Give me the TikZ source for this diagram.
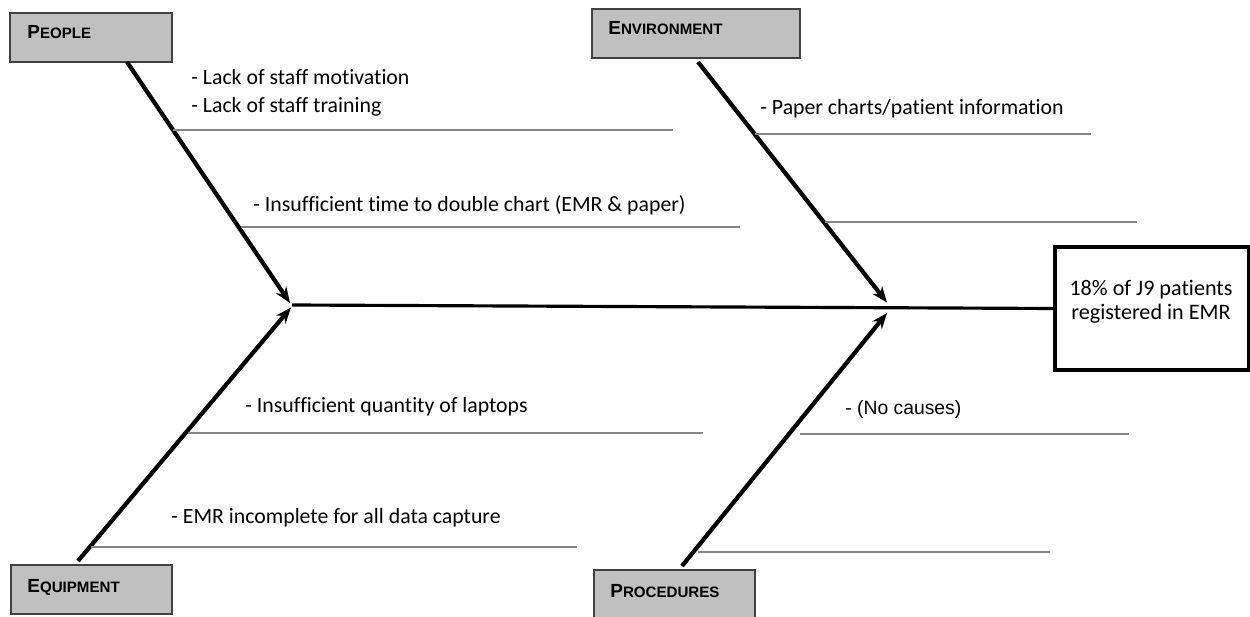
\documentclass[tikz,border=0pt]{standalone}
\usepackage{fontspec}
\setmainfont{Carlito}[Ligatures=NoCommon]
\newfontfamily\arialfont{Liberation Sans}
\usetikzlibrary{arrows.meta}
\definecolor{boxgray}{HTML}{C0C0C0}
\definecolor{boxline}{HTML}{404040}
\definecolor{subgray}{HTML}{858585}
\newcommand\catname[2]{{\arialfont\bfseries\fontsize{10.8}{12}\selectfont #1\fontsize{8.6}{10}\selectfont #2}}
\begin{document}
\begin{tikzpicture}[x=0.02cm,y=-0.02cm,
 catbox/.style={draw=boxline, fill=boxgray, line width=0.7pt, inner sep=0pt, minimum height=0.98cm},
 cattext/.style={anchor=base west, inner sep=0pt},
 bone/.style={line width=2.4pt, -{Stealth[length=9pt,width=7pt]}},
 spineline/.style={line width=1.8pt},
 subline/.style={draw=subgray, line width=0.9pt},
 cause/.style={anchor=base west, inner sep=0pt, font=\fontsize{12.4}{14}\selectfont},
 effectbox/.style={draw, line width=1.8pt, fill=white, inner sep=0pt,
   minimum width=3.88cm, minimum height=2.46cm},
 effecttext/.style={align=center, inner sep=0pt, font=\fontsize{12.6}{13.8}\selectfont}]
\clip (0,0) rectangle (1250,617);
\fill[white] (0,0) rectangle (1250,617);

% category boxes
\node[catbox, minimum width=3.24cm] (people) at (91,37.5) {};
\node[catbox, minimum width=4.16cm] (environment) at (696,33.5) {};
\node[catbox, minimum width=3.22cm] (equipment) at (91.5,589.5) {};
\node[catbox, minimum width=3.22cm] (procedures) at (674.5,594.5) {};
\node[cattext] (peopleT) at (27,39) {\catname{P}{EOPLE}};
\node[cattext] (environmentT) at (608,35) {\catname{E}{NVIRONMENT}};
\node[cattext] (equipmentT) at (27,592) {\catname{E}{QUIPMENT}};
\node[cattext] (proceduresT) at (610,597) {\catname{P}{ROCEDURES}};

% effect
\node[effectbox] (effect) at (1152,308.5) {};
\node[effecttext] (effectT) at (1151,302) {18\% of J9 patients\\registered in EMR};

% bone end points
\coordinate (pStart) at (127,62);
\coordinate (eStart) at (698,62);
\coordinate (qStart) at (78,561);
\coordinate (rStart) at (682,566);
\coordinate (pTip) at (290,303);
\coordinate (qTip) at (291,307.5);
\coordinate (eTip) at (887,302.5);
\coordinate (rTip) at (887,313);
\coordinate (spineL) at (292,305);

% spine
\draw[spineline] (spineL) -- (effect.west);

% bones
\draw[bone] (pStart) -- (pTip);
\draw[bone] (eStart) -- (eTip);
\draw[bone] (qStart) -- (qTip);
\draw[bone] (rStart) -- (rTip);

% cause lines
\draw[subline] (173,130) -- (673,130);
\draw[subline] (241,227) -- (740,227);
\draw[subline] (755,134) -- (1091,134);
\draw[subline] (825,222) -- (1137,222);
\draw[subline] (188,433) -- (703,433);
\draw[subline] (91,547) -- (577,547);
\draw[subline] (800,434) -- (1129,434);
\draw[subline] (698,552) -- (1050,552);

% cause texts
\node[cause] (c1) at (191,85) {- Lack of staff motivation};
\node[cause] (c2) at (191,113) {- Lack of staff training};
\node[cause] (c3) at (253,212) {- Insufficient time to double chart (EMR \& paper)};
\node[cause] (c4) at (760,115) {- Paper charts/patient information};
\node[cause] (c5) at (245,413) {- Insufficient quantity of laptops};
\node[cause] (c6) at (171,523) {- EMR incomplete for all data capture};
\node[cause, font=\arialfont\fontsize{11}{13}\selectfont] (c7) at (845,415) {- (No causes)};
\end{tikzpicture}
\end{document}
